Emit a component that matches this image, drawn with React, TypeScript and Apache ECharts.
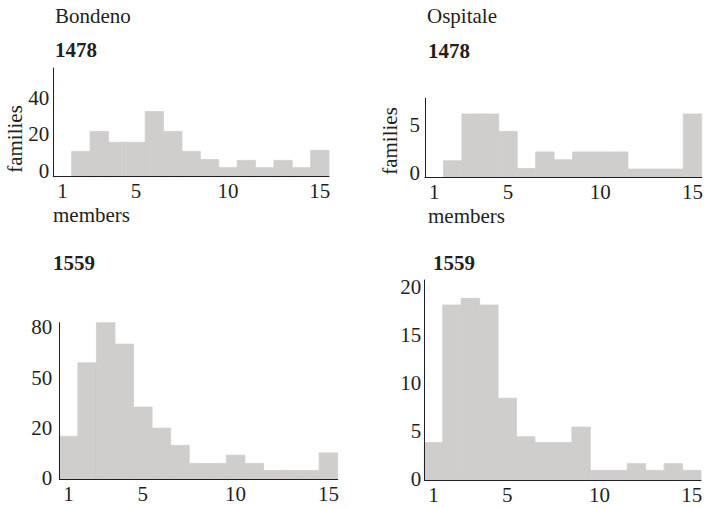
import React, { useEffect, useRef } from 'react';
import * as echarts from 'echarts';

// Household size (members) 1..15
const members = [1, 2, 3, 4, 5, 6, 7, 8, 9, 10, 11, 12, 13, 14, 15];
const xTickLabels = [1, 5, 10, 15];

// Families per household size
const bondeno1478 = [0, 14, 25, 19, 19, 36, 25, 14, 9.5, 5, 9, 5, 9, 5, 14.5];
const ospitale1478 = [0, 1.7, 6.5, 6.5, 4.7, 0.9, 2.6, 1.8, 2.6, 2.6, 2.6, 0.85, 0.85, 0.85, 6.5];
const bondeno1559 = [17, 59.4, 83.4, 70.6, 33, 20.4, 13.4, 6.2, 6.2, 9.5, 6.2, 3.4, 3.4, 3.4, 10.4];
const ospitale1559 = [3.9, 18.2, 18.9, 18.2, 8.5, 4.5, 3.9, 3.9, 5.5, 1, 1, 1.7, 1, 1.7, 1];

// Y tick labels as printed (evenly spaced on the page)
const yTicksBondeno1478 = [0, 20, 40];
const yTicksOspitale1478 = [0, 5];
const yTicksBondeno1559 = [0, 20, 50, 80];
const yTicksOspitale1559 = [0, 5, 10, 15, 20];

// Top of each y axis, in families
const yTopBondeno1478 = 60;
const yTopOspitale1478 = 8.1;
const yTopBondeno1559 = 83.4;
const yTopOspitale1559 = 20.8;

const INK = '#231f20';
const BAR = '#d0cdcd';
const FONT = '"Liberation Serif", "Times New Roman", serif';
const FS = 21;

// map a value onto the evenly spaced printed tick scale
function toTickScale(v: number, ticks: number[]): number {
  const n = ticks.length;
  if (n === 1) return v;
  let i = 0;
  while (i < n - 2 && v > ticks[i + 1]) i++;
  return i + (v - ticks[i]) / (ticks[i + 1] - ticks[i]);
}

const panels = [
  { values: bondeno1478, ticks: yTicksBondeno1478, top: yTopBondeno1478, grid: { left: 53.3, top: 68, width: 275.7, height: 108.7 }, labelLift: 6, yMargin: 4 },
  { values: ospitale1478, ticks: yTicksOspitale1478, top: yTopOspitale1478, grid: { left: 425, top: 98.3, width: 278.3, height: 79 }, labelLift: 4, yMargin: 5 },
  { values: bondeno1559, ticks: yTicksBondeno1559, top: yTopBondeno1559, grid: { left: 59.3, top: 322.7, width: 278.4, height: 156.3 }, labelLift: 1, yMargin: 7 },
  { values: ospitale1559, ticks: yTicksOspitale1559, top: yTopOspitale1559, grid: { left: 424.3, top: 280, width: 276.7, height: 200 }, labelLift: 1, yMargin: 3 },
];

const texts = [
  { text: 'Bondeno', x: 55, y: 15.5, bold: false },
  { text: '1478', x: 55, y: 50, bold: true },
  { text: 'Ospitale', x: 427, y: 16, bold: false },
  { text: '1478', x: 428, y: 51, bold: true },
  { text: '1559', x: 53, y: 263, bold: true },
  { text: '1559', x: 433, y: 263, bold: true },
  { text: 'members', x: 53, y: 214.5, bold: false },
  { text: 'members', x: 428, y: 215.5, bold: false },
];
const rotatedTexts = [
  { text: 'families', x: 15, y: 139 },
  { text: 'families', x: 390, y: 141 },
];

export default function App() {
  const ref = useRef<HTMLDivElement>(null);
  useEffect(() => {
    if (!ref.current) return;
    const chart = echarts.init(ref.current, undefined, { renderer: 'svg' });
    const option: any = {
      animation: false,
      backgroundColor: '#ffffff',
      grid: panels.map((p) => ({ ...p.grid, containLabel: false })),
      xAxis: panels.map((p, i) => ({
        type: 'value',
        gridIndex: i,
        min: 0.5,
        max: 15.5,
        z: 5,
        axisLine: { show: true, onZero: false, lineStyle: { color: INK, width: 1 } },
        axisTick: { show: false },
        splitLine: { show: false },
        axisLabel: {
          customValues: xTickLabels,
          margin: 4,
          fontFamily: FONT,
          fontSize: FS,
          color: INK,
          formatter: (v: number) => String(v),
        },
      })),
      yAxis: panels.map((p, i) => ({
        type: 'value',
        gridIndex: i,
        min: 0,
        max: toTickScale(p.top, p.ticks),
        z: 5,
        axisLine: { show: true, onZero: false, lineStyle: { color: INK, width: 1 } },
        axisTick: { show: false },
        splitLine: { show: false },
        axisLabel: {
          customValues: p.ticks.map((_, k) => k),
          margin: p.yMargin,
          fontFamily: FONT,
          fontSize: FS,
          color: INK,
          verticalAlign: 'bottom',
          lineHeight: 2 * p.labelLift,
          formatter: (v: number) => {
            const k = Math.round(v);
            return Math.abs(v - k) < 1e-6 && k < p.ticks.length ? String(p.ticks[k]) : '';
          },
        },
      })),
      series: panels.map((p, i) => ({
        type: 'custom',
        xAxisIndex: i,
        yAxisIndex: i,
        z: 1,
        silent: true,
        encode: { x: [0, 1], y: 2 },
        data: members.map((m, k) => [m - 0.5, m + 0.5, toTickScale(p.values[k], p.ticks)]),
        renderItem: (params: any, api: any) => {
          const x0 = api.value(0);
          const x1 = api.value(1);
          const y = api.value(2);
          const pTop = api.coord([x0, y]);
          const pBot = api.coord([x1, 0]);
          const h = pBot[1] - pTop[1];
          if (h <= 0.01) return null;
          return {
            type: 'rect',
            shape: { x: pTop[0], y: pTop[1], width: pBot[0] - pTop[0], height: h },
            style: { fill: BAR, stroke: BAR, lineWidth: 0.8 },
          };
        },
      })),
      graphic: [
        ...texts.map((t) => ({
          type: 'text',
          x: t.x,
          y: t.y,
          style: {
            text: t.text,
            font: `${t.bold ? 'bold ' : ''}${FS}px ${FONT}`,
            fill: INK,
            textAlign: 'left',
            textVerticalAlign: 'middle',
          },
        })),
        ...rotatedTexts.map((t) => ({
          type: 'text',
          x: t.x,
          y: t.y,
          rotation: Math.PI / 2,
          style: {
            text: t.text,
            font: `${FS}px ${FONT}`,
            fill: INK,
            textAlign: 'center',
            textVerticalAlign: 'middle',
          },
        })),
      ],
    };
    chart.setOption(option);
    return () => chart.dispose();
  }, []);
  return (
    <div
      ref={ref}
      style={{ position: 'fixed', left: 0, top: 0, width: 706, height: 508, background: '#fff' }}
    />
  );
}
